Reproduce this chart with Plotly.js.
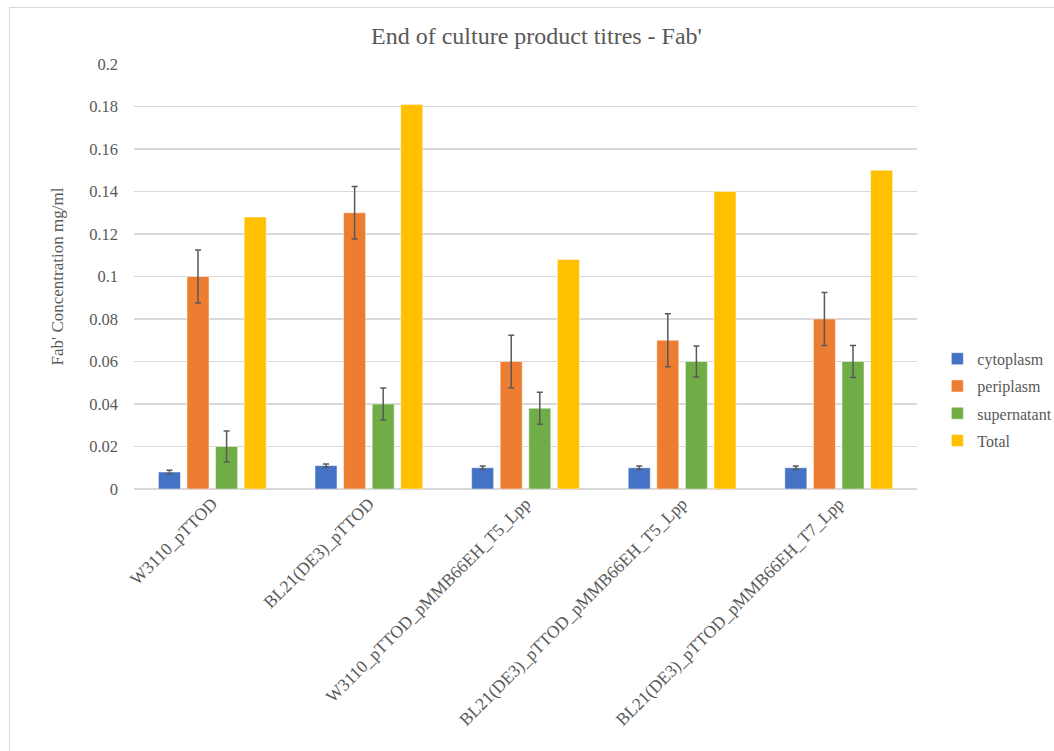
<!DOCTYPE html>
<html>
<head>
<meta charset="utf-8">
<script src="https://cdn.plot.ly/plotly-3.0.1.min.js"></script>
<style>
html,body{margin:0;padding:0;overflow:hidden;background:#fff;width:1054px;height:751px;}
#frame{position:absolute;left:9px;top:7px;width:1100px;height:800px;border:1px solid #d9d9d9;box-sizing:border-box;}
#chart{position:absolute;left:0;top:0;width:1054px;height:751px;}
</style>
</head>
<body>
<div id="frame"></div>
<div id="chart"></div>
<script>
const categories = ["W3110_pTTOD", "BL21(DE3)_pTTOD", "W3110_pTTOD_pMMB66EH_T5_Lpp", "BL21(DE3)_pTTOD_pMMB66EH_T5_Lpp", "BL21(DE3)_pTTOD_pMMB66EH_T7_Lpp"];
const cytoplasm = [0.008, 0.011, 0.010, 0.010, 0.010];
const cytoplasmErr = [0.0008, 0.0008, 0.0008, 0.0008, 0.0008];
const periplasm = [0.100, 0.130, 0.060, 0.070, 0.080];
const periplasmErr = [0.0125, 0.0123, 0.0123, 0.0125, 0.0125];
const supernatant = [0.020, 0.040, 0.038, 0.060, 0.060];
const supernatantErr = [0.0073, 0.0075, 0.0075, 0.0073, 0.0075];
const total = [0.128, 0.181, 0.108, 0.140, 0.150];
const yTicks = [0, 0.02, 0.04, 0.06, 0.08, 0.1, 0.12, 0.14, 0.16, 0.18, 0.2];
const yTickText = ["0", "0.02", "0.04", "0.06", "0.08", "0.1", "0.12", "0.14", "0.16", "0.18", "0.2"];

const errStyle = (arr) => ({type: 'data', array: arr, visible: true, color: '#595959', thickness: 1.5, width: 3});
const lineW = {width: 0.8, color: 'rgba(255,255,255,0.6)'};

const traces = [
  {type: 'bar', name: 'cytoplasm', legendgroup: 'a', x: categories, y: cytoplasm, marker: {color: '#4472C4', line: lineW}, error_y: errStyle(cytoplasmErr)},
  {type: 'bar', name: 'periplasm', legendgroup: 'b', x: categories, y: periplasm, marker: {color: '#ED7D31', line: lineW}, error_y: errStyle(periplasmErr)},
  {type: 'bar', name: 'supernatant', legendgroup: 'c', x: categories, y: supernatant, marker: {color: '#70AD47', line: lineW}, error_y: errStyle(supernatantErr)},
  {type: 'bar', name: 'Total', legendgroup: 'd', x: categories, y: total, marker: {color: '#FFC000', line: lineW}}
];

const font = "'Liberation Serif', 'Times New Roman', serif";
const layout = {
  width: 1054, height: 751,
  paper_bgcolor: 'rgba(0,0,0,0)', plot_bgcolor: 'rgba(0,0,0,0)',
  margin: {l: 134, r: 137, t: 64, b: 262, autoexpand: false},
  font: {family: font, color: '#595959', size: 16},
  title: {text: "End of culture product titres - Fab'", font: {family: font, size: 24, color: '#595959'}, x: 0.509, xanchor: 'center', y: 0.953, yanchor: 'middle'},
  barmode: 'group', bargap: 0.27, bargroupgap: 0.23,
  showlegend: true,
  legend: {x: 1.026, xanchor: 'left', y: 0.21, yanchor: 'middle', font: {family: font, size: 16, color: '#595959'}, tracegroupgap: 3.5, itemwidth: 30, traceorder: 'grouped'},
  xaxis: {type: 'category', tickangle: -45, showgrid: false, zeroline: false, showline: false, ticks: '', tickfont: {family: font, size: 17.5, color: '#595959'}},
  yaxis: {range: [0, 0.2], tickvals: yTicks, ticktext: yTickText, showgrid: true, gridcolor: '#d9d9d9', gridwidth: 1.2, zeroline: true, zerolinecolor: '#d9d9d9', zerolinewidth: 1.2, showline: false, ticks: '', ticklabelstandoff: 15, tickfont: {family: font, size: 16.5, color: '#595959'},
    title: {text: "Fab' Concentration mg/ml", font: {family: font, size: 17, color: '#595959'}, standoff: 21}}
};
Plotly.newPlot('chart', traces, layout, {displayModeBar: false, staticPlot: true});
</script>
</body>
</html>
